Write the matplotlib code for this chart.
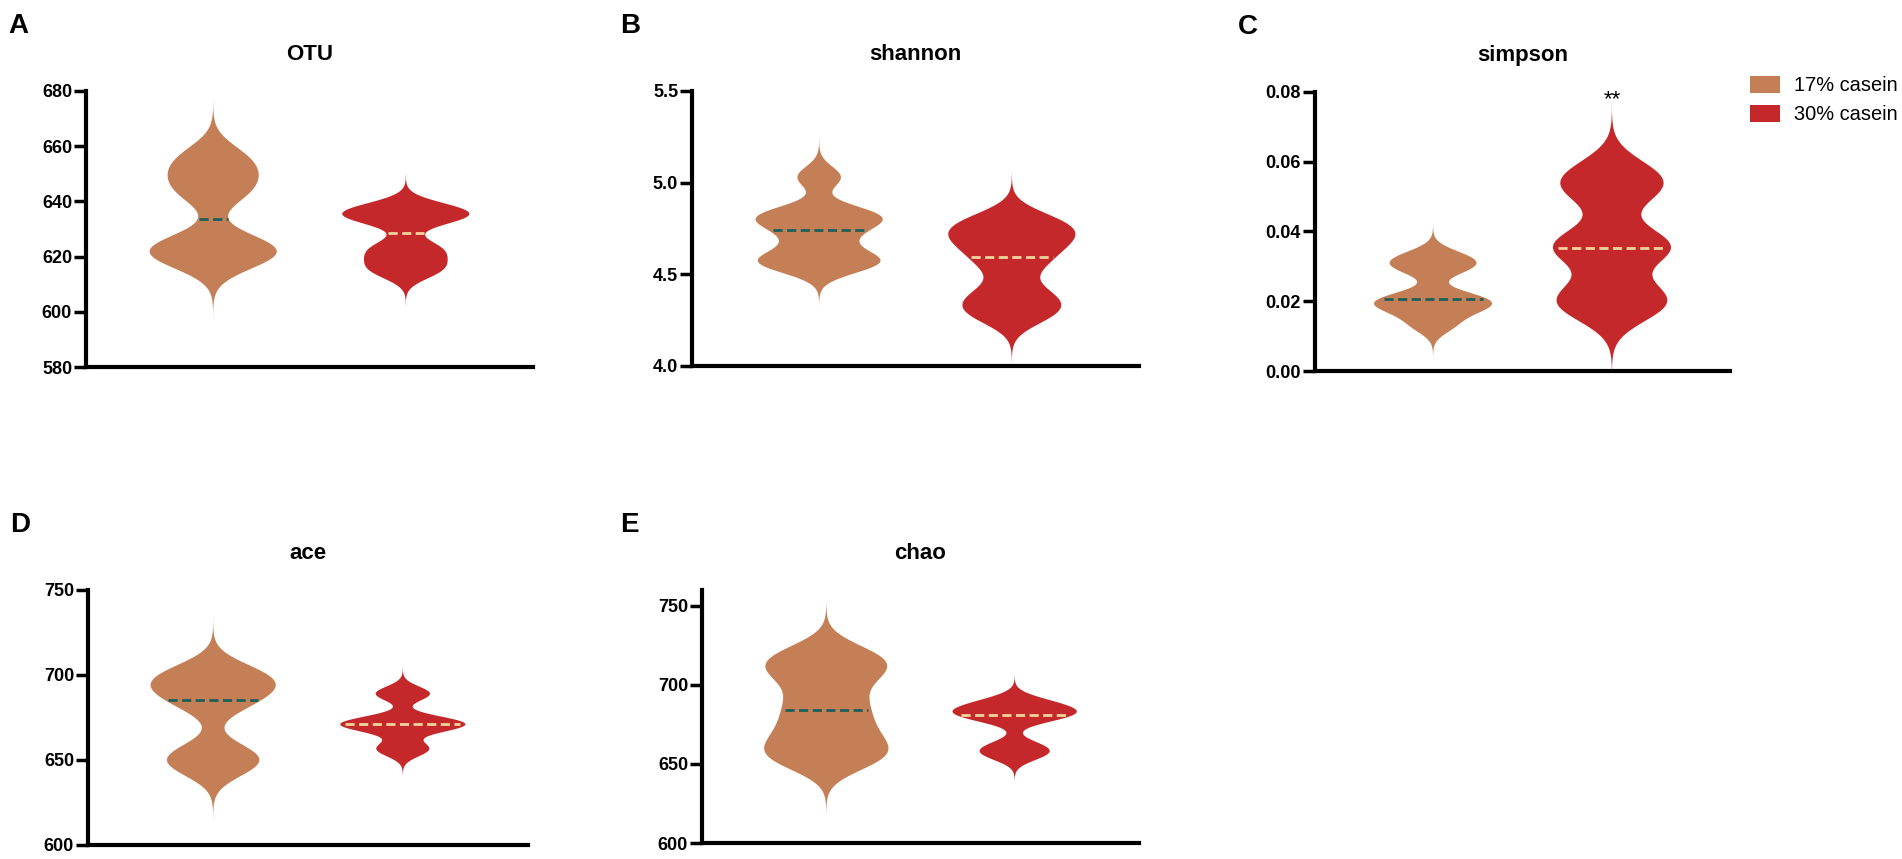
import numpy as np
import matplotlib
matplotlib.use("Agg")
import matplotlib.pyplot as plt
from matplotlib import mlab
from matplotlib.patches import Patch
from matplotlib.ticker import FormatStrFormatter

plt.rcParams['font.family'] = ['Liberation Sans', 'DejaVu Sans']

# alpha diversity per sample
groups = ["17% casein", "30% casein"]

otu_17 = [618, 621, 623, 625, 642, 647, 652, 657]
otu_30 = [614, 617, 621, 624, 633, 635, 636, 638]

shannon_17 = [4.54, 4.57, 4.60, 4.70, 4.78, 4.81, 4.84, 5.03]
shannon_30 = [4.27, 4.33, 4.40, 4.55, 4.64, 4.70, 4.75, 4.80]

simpson_17 = [0.013, 0.017, 0.019, 0.020, 0.0215, 0.029, 0.031, 0.033]
simpson_30 = [0.017, 0.019, 0.021, 0.023, 0.034, 0.0352, 0.0356, 0.038,
              0.050, 0.053, 0.055, 0.058]

ace_17 = [645, 650, 655, 682, 689, 694, 698, 703]
ace_30 = [655, 658, 668, 670, 671, 672, 674, 688, 690]

chao_17 = [650, 655, 660, 667, 675, 684, 693, 705, 710, 716, 721]
chao_30 = [655, 658, 662, 678, 681, 682, 684, 687, 690]

colors = ["#c47f57", "#c4282b"]
median_colors = ["#1d5f5a", "#f2d39c"]

SMOOTH = 0.35   # kde bandwidth factor
CUT = 3.7       # tails, in bandwidths
WIDTH = 0.66

W, H = 1902, 859
fig = plt.figure(figsize=(W / 100, H / 100), dpi=100)


def box(left, top, right, bottom):
    return [left / W, 1 - bottom / H, (right - left) / W, (bottom - top) / H]


def violin(ax, data, pos, color, mcolor):
    data = np.asarray(data, float)
    kde = mlab.GaussianKDE(data, bw_method=SMOOTH)
    bw = np.sqrt(np.ravel(kde.covariance)[0])
    coords = np.linspace(data.min() - CUT * bw, data.max() + CUT * bw, 400)
    vals = kde.evaluate(coords)
    med = np.median(data)
    stats = dict(coords=coords, vals=vals, mean=data.mean(), median=med,
                 min=coords[0], max=coords[-1])
    parts = ax.violin([stats], positions=[pos], widths=WIDTH, showextrema=False)
    body = parts['bodies'][0]
    body.set_facecolor(color)
    body.set_edgecolor('none')
    body.set_alpha(1)
    half = 0.5 * WIDTH * kde.evaluate(np.array([med]))[0] / vals.max() * 0.92
    ax.plot([pos - half, pos + half], [med, med], color=mcolor, lw=2,
            ls=(0, (3.3, 1.6)))


panels = [
    ("A", "OTU", otu_17, otu_30, (580, 680), np.arange(580, 681, 20), "%d",
     box(86, 91, 533, 367), 8),
    ("B", "shannon", shannon_17, shannon_30, (4.0, 5.5), [4.0, 4.5, 5.0, 5.5], "%.1f",
     box(692, 91, 1139, 366), 620),
    ("C", "simpson", simpson_17, simpson_30, (0.0, 0.08), np.arange(0, 0.081, 0.02), "%.2f",
     box(1315, 92, 1730, 371), 1238),
    ("D", "ace", ace_17, ace_30, (600, 750), [600, 650, 700, 750], "%d",
     box(88, 590, 528, 845), 10),
    ("E", "chao", chao_17, chao_30, (600, 760), [600, 650, 700, 750], "%d",
     box(702, 590, 1139, 843), 620),
]

axes = {}
for letter, title, d17, d30, ylim, yticks, fmt, rect, lx in panels:
    ax = fig.add_axes(rect)
    axes[letter] = ax
    violin(ax, d17, 1, colors[0], median_colors[0])
    violin(ax, d30, 2, colors[1], median_colors[1])
    ax.set_xlim(1 - 0.66, 2 + 0.66)
    ax.set_ylim(*ylim)
    ax.set_yticks(yticks)
    ax.yaxis.set_major_formatter(FormatStrFormatter(fmt))
    ax.set_xticks([])
    for s in ["top", "right"]:
        ax.spines[s].set_visible(False)
    for s in ["left", "bottom"]:
        ax.spines[s].set_linewidth(3)
        ax.spines[s].set_capstyle("projecting")
    ax.tick_params(axis="y", direction="out", length=9, width=2.5, pad=1,
                   labelsize=13)
    for t in ax.get_yticklabels():
        t.set_fontweight("bold")
    # title and panel letter, placed in figure pixels
    top = H * (rect[1] + rect[3])
    cx = (rect[0] + rect[2] / 2) * W
    fig.text(cx / W, (top + 31) / H, title, ha="center", va="baseline",
             fontsize=16, fontweight="bold")
    fig.text(lx / W, (top + 58) / H, letter, ha="left", va="baseline",
             fontsize=20, fontweight="bold")

axes["C"].text(2, 0.0762, "**", ha="center", va="baseline", fontsize=16,
               clip_on=False)

handles = [Patch(facecolor=c, edgecolor="none") for c in colors]
fig.legend(handles, groups, loc="upper left", bbox_to_anchor=(1750 / W, 1 - 76 / H),
           frameon=False, fontsize=14.4, handlelength=1.5, handleheight=0.9,
           handletextpad=0.7, labelspacing=0.5, borderpad=0, borderaxespad=0)

fig.savefig("out.png", dpi=100)
